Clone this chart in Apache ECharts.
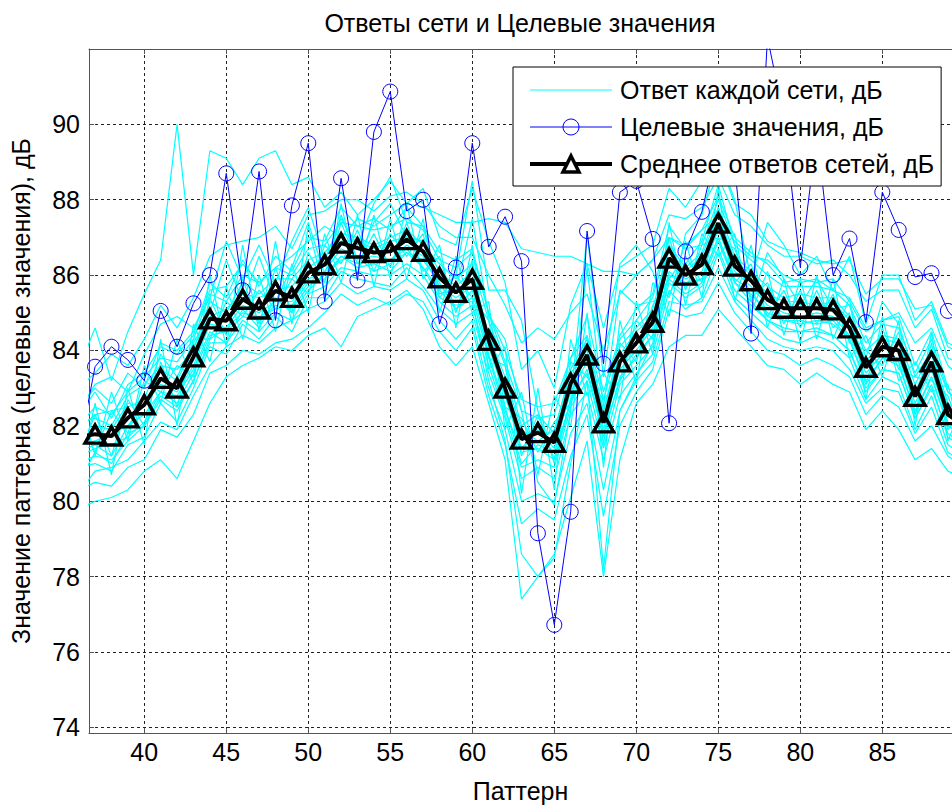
<!DOCTYPE html>
<html><head><meta charset="utf-8">
<script src="https://cdn.jsdelivr.net/npm/echarts@6/dist/echarts.min.js"></script>
<style>html,body{margin:0;padding:0;background:#fff}#c{width:952px;height:808px}</style>
</head><body><div id="c"></div>
<script>
const patterns = [36,37,38,39,40,41,42,43,44,45,46,
  47,48,49,50,51,52,53,54,55,56,57,
  58,59,60,61,62,63,64,65,66,67,68,
  69,70,71,72,73,74,75,76,77,78,79,
  80,81,82,83,84,85,86,87,88,89,90];
const xTicks = [40,45,50,55,60,65,70,75,80,85];
const yTicks = [74,76,78,80,82,84,86,88,90];

const targetValues = [81.3,83.57,84.1,83.75,83.2,85.05,84.1,85.25,86.0,88.7,85.6,
  88.75,84.8,87.85,89.5,85.3,88.57,85.86,89.8,90.87,87.7,88.0,
  84.7,86.2,89.5,86.75,87.55,86.37,79.15,76.72,79.72,87.17,83.65,
  88.2,88.5,86.96,82.07,86.63,87.68,89.6,88.9,84.45,92.3,90.2,
  86.21,89.75,86.0,86.97,84.75,88.2,87.2,85.95,86.05,85.05,84.55];

const meanValues = [81.7,81.78,81.73,82.21,82.56,83.26,83.0,83.83,84.84,84.79,85.36,
  85.1,85.58,85.41,86.06,86.28,86.85,86.72,86.6,86.63,86.94,86.63,
  85.93,85.54,85.89,84.27,83.0,81.65,81.82,81.56,83.13,83.88,82.08,
  83.7,84.2,84.75,86.45,86.0,86.28,87.38,86.24,85.85,85.35,85.12,
  85.12,85.12,85.08,84.6,83.55,84.1,84.0,82.78,83.7,82.3,82.0];

const net1 = [83.5,84.6,83.2,84.5,85.5,86.4,90.0,86.0,89.3,89.1,88.4,
  89.1,89.3,88.4,88.6,87.8,88.2,87.6,88.0,88.5,87.9,88.3,
  87.0,86.8,88.3,86.9,85.8,83.5,84.0,83.0,85.2,86.3,84.6,
  86.2,86.5,86.8,88.3,87.8,88.5,89.1,87.9,87.6,86.9,86.7,
  86.6,86.4,86.3,86.4,85.5,85.9,85.9,85.1,85.2,84.1,83.9];
const net2 = [82.5,83.0,82.6,83.4,83.0,84.2,84.0,84.5,85.6,85.7,86.3,
  85.8,86.2,86.5,86.9,87.3,87.0,87.5,87.3,87.6,87.9,87.8,
  87.6,87.4,87.4,87.5,87.4,86.7,86.6,86.5,86.5,86.3,86.1,
  86.1,86.0,86.4,87.0,86.8,87.2,87.6,86.9,86.5,86.4,86.0,
  85.8,85.9,85.6,85.4,84.6,84.8,85.0,84.2,84.6,83.6,83.2];
const net3 = [79.8,80.0,80.1,80.3,80.8,81.1,80.6,81.6,82.6,83.3,83.6,
  83.8,84.1,84.0,84.4,84.6,84.1,84.9,85.1,85.3,85.6,85.1,
  84.1,83.6,84.1,82.6,81.1,77.4,78.0,78.6,80.1,81.6,78.0,
  81.1,82.6,83.1,84.1,84.4,84.4,85.1,84.6,84.1,83.6,83.5,
  83.1,83.4,83.1,82.9,81.9,82.4,81.9,81.1,81.4,80.8,80.6];
const net4 = [82.3,82.9,82.2,83.1,83.4,84.1,83.9,84.4,85.8,85.4,86.4,
  85.7,86.5,86.1,87.0,86.9,87.8,87.3,87.5,87.2,87.8,87.3,
  86.6,86.4,86.7,85.0,84.0,82.7,82.5,82.6,83.8,84.9,82.9,
  84.4,85.1,85.5,87.3,86.7,87.2,88.1,87.0,86.6,86.3,85.8,
  85.9,85.8,85.9,85.3,84.5,84.8,84.9,83.6,84.5,83.0,82.8];
const net5 = [80.9,81.0,80.8,81.5,81.7,82.6,82.1,83.0,84.1,83.9,84.7,
  84.3,84.9,84.5,85.4,85.4,86.1,85.9,85.8,85.7,86.2,85.7,
  85.1,84.7,85.0,83.4,82.2,80.6,80.9,80.6,82.3,82.9,81.1,
  82.8,83.4,83.9,85.6,85.1,85.4,86.6,85.4,85.0,84.6,84.3,
  84.2,84.4,84.2,83.8,82.7,83.3,83.1,81.9,82.8,81.5,81.2];
const net6 = [81.9,82.3,82.4,82.5,82.7,83.9,83.3,84.2,85.0,86.4,85.3,
  86.5,85.3,86.2,87.4,86.0,87.6,86.4,87.4,87.9,87.0,86.9,
  85.5,85.6,87.5,84.9,84.3,82.4,80.5,79.9,82.4,86.2,82.5,
  85.6,85.2,85.3,85.5,86.3,86.9,88.4,86.8,85.3,86.6,85.9,
  85.2,85.9,85.1,85.2,83.8,85.3,84.7,83.3,84.0,82.9,82.5];
const net7 = [81.3,81.5,81.2,82.0,82.3,82.9,82.8,83.5,84.5,84.2,85.1,
  84.6,85.4,85.0,85.6,86.0,86.4,86.5,86.1,86.3,86.6,86.4,
  85.8,85.1,85.6,83.9,82.5,81.0,81.5,81.3,82.6,83.5,81.8,
  83.2,83.9,84.4,86.1,85.7,85.9,87.0,85.9,85.6,84.9,84.8,
  84.8,84.7,84.8,84.3,83.2,83.8,83.6,82.4,83.3,82.0,81.7];
const net8 = [83.0,83.4,83.9,83.6,84.3,85.2,84.6,85.4,86.5,86.8,86.9,
  87.0,87.3,86.7,87.6,87.7,88.0,88.0,87.7,88.1,88.2,87.9,
  87.3,87.0,87.0,86.0,85.2,84.2,84.6,84.3,85.0,85.5,84.0,
  85.5,86.0,86.4,87.6,87.5,87.8,88.6,87.6,87.3,86.8,86.5,
  86.5,86.3,86.4,86.0,85.3,85.6,85.6,84.6,85.1,83.8,83.6];
const net9 = [80.3,80.5,80.4,80.9,81.1,81.9,81.7,82.3,83.4,83.6,84.0,
  83.9,84.2,84.3,84.6,85.0,85.5,85.2,85.4,85.2,85.5,85.3,
  84.5,84.0,84.6,82.8,81.5,79.4,79.8,79.5,81.2,82.3,79.6,
  82.0,82.9,83.5,85.1,84.9,85.0,85.8,85.0,84.5,84.0,83.9,
  83.6,83.8,83.6,83.3,82.3,82.8,82.5,81.6,82.0,81.2,80.9];
const net10 = [82.8,81.2,82.9,81.6,83.6,82.6,84.3,83.1,86.0,84.1,86.8,
  84.5,86.9,84.7,87.3,85.5,87.9,86.0,87.6,85.9,87.9,85.9,
  86.8,84.6,86.8,83.5,84.1,80.2,83.0,80.3,84.3,82.8,83.4,
  82.7,85.3,83.9,87.4,85.2,87.1,86.5,87.1,85.0,86.1,84.4,
  85.9,84.3,85.9,83.8,84.4,83.3,84.8,82.0,84.5,81.6,82.7];
const net11 = [80.6,82.6,80.7,83.0,81.5,84.3,82.0,84.7,83.7,85.7,84.3,
  86.0,84.5,86.3,85.0,87.1,85.8,87.6,85.7,87.5,85.9,87.5,
  85.0,86.5,85.0,85.3,81.9,82.9,80.7,82.8,82.0,85.0,80.9,
  84.8,83.1,85.8,85.4,86.9,85.4,88.3,85.3,86.8,84.6,85.9,
  84.2,86.0,84.3,85.4,82.7,84.9,83.2,83.7,82.9,83.1,81.4];
const net12 = [80.5,81.3,81.0,81.8,82.0,82.8,82.5,83.2,84.3,84.6,85.0,
  84.9,85.1,85.2,85.8,85.9,86.5,86.3,86.4,86.4,86.7,86.2,
  85.4,85.2,85.3,83.2,81.6,78.6,78.0,78.5,81.0,83.2,78.2,
  82.4,83.3,84.2,85.9,85.5,85.8,86.9,85.8,85.3,84.8,84.6,
  84.5,84.6,84.4,84.0,83.0,83.5,83.4,82.2,83.0,81.8,81.5];
const net13 = [82.1,82.2,82.0,82.8,83.1,83.6,83.5,84.0,85.3,85.0,85.8,
  85.5,85.9,85.9,86.4,86.6,87.1,87.0,86.8,87.0,87.2,86.8,
  86.3,85.9,86.3,84.8,83.6,82.0,82.3,81.8,83.5,84.3,82.4,
  84.1,84.6,85.1,86.8,86.2,86.6,87.8,86.5,86.1,85.7,85.4,
  85.5,85.4,85.4,84.9,84.0,84.4,84.3,83.1,84.0,82.6,82.3];
const net14 = [81.2,81.4,81.5,81.7,82.1,82.9,82.6,83.4,84.4,84.5,84.9,
  84.8,85.2,85.1,85.7,86.0,86.5,86.2,86.3,86.1,86.6,86.2,
  85.6,85.1,85.4,83.8,82.4,81.3,81.4,81.1,82.7,83.4,81.7,
  83.3,83.8,84.4,86.0,85.8,85.9,87.0,85.8,85.5,85.0,84.8,
  84.7,84.8,84.7,84.3,83.1,83.8,83.7,82.3,83.3,82.0,81.8];
const net15 = [82.4,83.1,83.3,82.9,83.9,84.7,84.9,84.6,85.4,86.9,85.9,
  86.8,85.8,86.9,87.8,86.4,87.5,86.8,87.9,88.6,87.4,87.3,
  85.6,86.0,88.5,85.6,85.6,84.8,82.4,81.0,82.7,87.1,83.3,
  86.3,86.8,86.1,84.9,87.1,87.6,89.2,88.0,85.9,87.4,86.8,
  86.0,86.5,85.6,86.5,84.7,86.0,86.0,84.8,85.3,84.2,84.0];
const net16 = [80.2,80.8,80.9,81.1,81.6,82.1,81.9,82.8,83.6,84.1,84.4,
  84.2,84.6,84.8,85.1,85.3,85.8,85.5,85.7,85.6,85.9,85.6,
  84.8,84.3,84.8,83.0,81.9,80.0,80.2,80.0,81.8,82.6,80.3,
  82.4,83.2,83.7,85.3,85.2,85.3,86.2,85.3,84.8,84.3,84.1,
  84.0,84.1,84.0,83.5,82.6,83.0,82.9,81.8,82.5,81.3,81.0];
const net17 = [81.6,82.0,81.9,82.6,82.5,83.5,83.2,84.1,84.9,85.1,85.5,
  85.4,85.6,85.7,86.2,86.5,86.9,86.9,86.7,86.9,87.0,86.9,
  86.1,85.7,86.1,84.4,83.3,81.9,81.6,81.9,83.4,84.0,82.4,
  83.9,84.5,84.9,86.7,86.1,86.5,87.6,86.4,86.0,85.5,85.3,
  85.3,85.2,85.3,84.8,83.7,84.3,84.2,82.9,83.9,82.5,82.2];
const net18 = [81.5,81.6,81.8,82.0,82.6,83.1,82.9,83.6,84.7,84.6,85.2,
  85.0,85.3,85.3,85.9,86.1,86.7,86.5,86.5,86.4,86.8,86.5,
  85.7,85.4,85.7,84.1,82.8,81.4,81.9,81.4,82.9,83.7,81.9,
  83.5,84.0,84.6,86.3,85.9,86.1,87.2,86.1,85.7,85.2,85.0,
  84.9,85.0,84.9,84.4,83.4,83.9,83.8,82.6,83.5,82.1,81.8];
const net19 = [82.2,81.3,82.4,81.8,83.2,82.9,83.6,83.3,85.4,84.4,85.9,
  84.7,86.2,85.0,86.6,85.8,87.4,86.3,87.1,86.2,87.4,86.1,
  86.5,85.0,86.4,83.8,83.6,81.2,82.3,81.1,83.7,83.3,82.7,
  83.2,84.8,84.3,87.0,85.6,86.8,87.0,86.7,85.4,85.8,84.7,
  85.6,84.7,85.5,84.2,84.0,83.6,84.5,82.3,84.2,81.9,82.4];
const net20 = [81.2,82.3,81.2,82.7,82.0,83.7,82.5,84.3,84.3,85.3,84.9,
  85.6,85.1,85.9,85.5,86.8,86.3,87.2,86.1,87.1,86.5,87.1,
  85.4,86.0,85.4,84.8,82.5,82.2,81.3,82.1,82.6,84.4,81.5,
  84.2,83.7,85.2,85.9,86.5,85.8,87.8,85.8,86.3,84.9,85.6,
  84.6,85.6,84.6,85.0,83.1,84.6,83.5,83.3,83.2,82.8,81.6];
const net21 = [82.0,82.5,82.3,82.9,83.3,83.8,83.7,84.3,85.5,85.3,86.0,
  85.8,86.2,86.0,86.7,86.8,87.4,87.3,87.2,87.3,87.5,87.2,
  86.4,86.2,86.6,85.0,83.7,82.4,82.2,82.3,83.8,84.4,82.7,
  84.3,84.8,85.4,87.0,86.7,86.8,88.0,86.8,86.4,86.0,85.7,
  85.7,85.7,85.6,85.2,84.2,84.7,84.6,83.4,84.3,82.9,82.6];
const net22 = [81.0,81.2,81.1,81.6,82.0,82.7,82.4,83.2,84.2,84.2,84.8,
  84.5,85.0,84.8,85.5,85.7,86.2,86.1,86.0,86.0,86.3,86.0,
  85.3,84.9,85.2,83.6,82.3,80.9,81.1,80.9,82.5,83.2,81.4,
  83.1,83.6,84.1,85.8,85.4,85.7,86.7,85.6,85.2,84.8,84.5,
  84.5,84.5,84.4,84.0,82.9,83.5,83.4,82.2,83.1,81.7,81.4];
const networks = [net1,net2,net3,net4,net5,net6,net7,net8,net9,net10,net11,
  net12,net13,net14,net15,net16,net17,net18,net19,net20,net21,net22];

const NAME_NET = 'Ответ каждой сети, дБ';
const NAME_TGT = 'Целевые значения, дБ';
const NAME_MEAN = 'Среднее ответов сетей, дБ';
const FONT = '"Liberation Sans", Arial, Helvetica, sans-serif';
const pairs = v => patterns.map((p, i) => [p, v[i]]);

const chart = echarts.init(document.getElementById('c'), null, {renderer: 'svg'});

const series = networks.map(n => ({
  name: NAME_NET, type: 'line', data: pairs(n), symbol: 'none', silent: true,
  lineStyle: {color: '#00FFFF', width: 1.2}, itemStyle: {color: '#00FFFF'}, z: 2
}));
series.push({
  name: NAME_TGT, type: 'line', data: pairs(targetValues), symbol: 'circle', symbolSize: 15,
  lineStyle: {color: '#0000FF', width: 1},
  itemStyle: {color: 'rgba(0,0,0,0)', borderColor: '#0000FF', borderWidth: 1}, z: 3
});
series.push({
  name: NAME_MEAN, type: 'line', data: pairs(meanValues), symbol: 'triangle', symbolSize: [20, 18],
  lineStyle: {color: '#000', width: 4},
  itemStyle: {color: 'rgba(0,0,0,0)', borderColor: '#000', borderWidth: 3.5}, z: 4
});

const XMIN = 36.63, XMAX = 89.25, YMIN = 73.85, YMAX = 92;
const gridLine = {show: true, lineStyle: {color: '#222', width: 1, type: [3, 3]}};
const axisCol = '#555';

chart.setOption({
  animation: false,
  backgroundColor: '#fff',
  textStyle: {fontFamily: FONT},
  title: {
    text: 'Ответы сети и Целевые значения', left: 515, top: 5, textAlign: 'center',
    textStyle: {fontFamily: FONT, fontSize: 25, fontWeight: 'normal', color: '#000'}
  },
  grid: {left: 89, top: 49, right: 0, bottom: 68},
  legend: {
    orient: 'vertical', left: 513, top: 67, selectedMode: false,
    backgroundColor: '#fff', borderColor: '#000', borderWidth: 1,
    padding: [9, 7, 8, 15], itemGap: 9, itemWidth: 82, itemHeight: 20,
    textStyle: {fontFamily: FONT, fontSize: 25, color: '#000', lineHeight: 28, padding: [0, 0, 0, 3]},
    data: [
      {name: NAME_NET, icon: 'path://M0,0 L82,0 L82,1 L0,1 Z'},
      {name: NAME_TGT, lineStyle: {color: '#0000FF', width: 1},
        itemStyle: {color: 'rgba(0,0,0,0)', borderColor: '#0000FF', borderWidth: 1}},
      {name: NAME_MEAN, lineStyle: {color: '#000', width: 4},
        itemStyle: {color: '#fff', borderColor: '#000', borderWidth: 3.5}}
    ]
  },
  xAxis: [{
    type: 'value', min: XMIN, max: XMAX, position: 'bottom',
    name: 'Паттерн', nameLocation: 'middle', nameGap: 45,
    nameTextStyle: {fontFamily: FONT, fontSize: 25, color: '#000'},
    axisLine: {show: true, onZero: false, lineStyle: {color: axisCol, width: 1}},
    axisTick: {show: true, inside: true, length: 5, customValues: xTicks, lineStyle: {color: axisCol}},
    axisLabel: {customValues: xTicks, margin: 6, fontFamily: FONT, fontSize: 25, color: '#000'},
    splitLine: gridLine
  }, {
    type: 'value', min: XMIN, max: XMAX, position: 'top',
    axisLine: {show: true, onZero: false, lineStyle: {color: axisCol, width: 1}},
    axisTick: {show: true, inside: true, length: 5, customValues: xTicks, lineStyle: {color: axisCol}},
    axisLabel: {show: false, customValues: xTicks},
    splitLine: {show: false}
  }],
  yAxis: {
    type: 'value', min: YMIN, max: YMAX,
    name: 'Значение паттерна (целевые значения), дБ', nameLocation: 'middle', nameGap: 56, nameRotate: 90,
    nameTextStyle: {fontFamily: FONT, fontSize: 25, color: '#000'},
    axisLine: {show: true, onZero: false, lineStyle: {color: axisCol, width: 1}},
    axisTick: {show: true, inside: true, length: 5, customValues: yTicks, lineStyle: {color: axisCol}},
    axisLabel: {customValues: yTicks, margin: 9, fontFamily: FONT, fontSize: 25, color: '#000'},
    splitLine: gridLine
  },
  series: series
});
</script>
</body></html>
